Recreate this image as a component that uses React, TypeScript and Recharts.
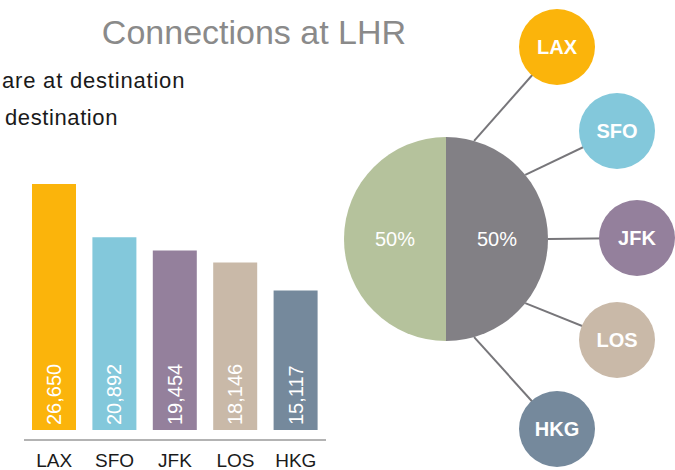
import { Bar, BarChart, Cell, LabelList, Pie, PieChart, Scatter, ScatterChart, XAxis, YAxis } from "recharts";

const FONT = "'Liberation Sans', Arial, Helvetica, sans-serif";

// bar chart
const destinations = ["LAX", "SFO", "JFK", "LOS", "HKG"];
const connections = [26650, 20892, 19454, 18146, 15117];
const destColors = ["#FBB40B", "#83C8DB", "#94809C", "#C9B9A8", "#75899C"];

// hub pie
const shareNames = ["Not at destination", "At destination"];
const shareValues = [50, 50];
const shareColors = ["#828085", "#B5C29C"];

// hub-and-spoke layout (px units relative to hub centre)
const bubbleX = [111, 171, 191, 171, 111];
const bubbleY = [192, 108, 1, -101, -190];
const spokeAngles = [74, 39, 0, -39, -74];

const HUB_R = 102;
const BUBBLE_R = 38;
const RAD = Math.PI / 180;

const barData = destinations.map((name, i) => ({ name, value: connections[i] }));
const pieData = shareNames.map((name, i) => ({ name, value: shareValues[i] }));
const bubbleData = destinations.map((name, i) => ({ name, x: bubbleX[i], y: bubbleY[i], color: destColors[i] }));
const spokes = destinations.map((name, i) => [
  { x: HUB_R * Math.cos(spokeAngles[i] * RAD), y: HUB_R * Math.sin(spokeAngles[i] * RAD) },
  { x: bubbleX[i], y: bubbleY[i] },
]);

const BarValue = (props: any) => {
  const { x, y, width, height, value } = props;
  const cx = x + width / 2;
  const by = y + height - 5;
  return (
    <text
      x={cx}
      y={by}
      transform={`rotate(-90, ${cx}, ${by})`}
      textAnchor="start"
      dominantBaseline="central"
      fill="#FFFFFF"
      fontSize={20}
      fontFamily={FONT}
    >
      {Number(value).toLocaleString("en-US")}
    </text>
  );
};

const CategoryTick = (props: any) => (
  <text x={props.x} y={props.y + 25} textAnchor="middle" fill="#1A1A1A" fontSize={19} fontFamily={FONT}>
    {props.payload.value}
  </text>
);

const Bubble = (props: any) => {
  const { cx, cy, payload } = props;
  return (
    <g>
      <circle cx={cx} cy={cy} r={BUBBLE_R} fill={payload.color} />
      <text
        x={cx}
        y={cy}
        textAnchor="middle"
        dominantBaseline="central"
        fill="#FFFFFF"
        fontSize={20}
        fontWeight="bold"
        fontFamily={FONT}
      >
        {payload.name}
      </text>
    </g>
  );
};

const PieValue = (props: any) => {
  const { cx, cy, midAngle, outerRadius, percent } = props;
  const r = outerRadius * 0.5;
  const x = cx + r * Math.cos(-midAngle * RAD);
  const y = cy + r * Math.sin(-midAngle * RAD);
  return (
    <text x={x} y={y} textAnchor="middle" dominantBaseline="central" fill="#FFFFFF" fontSize={20} fontFamily={FONT}>
      {`${Math.round(percent * 100)}%`}
    </text>
  );
};

export default function App() {
  return (
    <div style={{ position: "absolute", left: 0, top: 0, width: 675, height: 470, overflow: "hidden", background: "#FFFFFF" }}>
      <div style={{ position: "absolute", left: 0, top: 0 }}>
        <BarChart width={340} height={470} data={barData} margin={{ top: 160, right: 14, bottom: 0, left: 24 }}>
          <XAxis
            dataKey="name"
            height={30}
            tickLine={false}
            tickSize={0}
            tick={<CategoryTick />}
            axisLine={{ stroke: "#B3B3B3", strokeWidth: 2 }}
          />
          <YAxis hide domain={[-1083, 29250]} allowDataOverflow />
          <Bar dataKey="value" barSize={44} isAnimationActive={false}>
            {barData.map((d, i) => (
              <Cell key={d.name} fill={destColors[i]} />
            ))}
            <LabelList dataKey="value" content={<BarValue />} />
          </Bar>
        </BarChart>
      </div>

      <div style={{ position: "absolute", left: 330, top: 0 }}>
        <ScatterChart width={345} height={470} margin={{ top: 0, right: 0, bottom: 0, left: 0 }}>
          <XAxis type="number" dataKey="x" domain={[-116, 229]} hide allowDataOverflow />
          <YAxis type="number" dataKey="y" domain={[-231, 239]} hide allowDataOverflow />
          {spokes.map((s, i) => (
            <Scatter
              key={destinations[i]}
              data={s}
              line={{ stroke: "#77767A", strokeWidth: 2 }}
              shape={() => <g />}
              isAnimationActive={false}
            />
          ))}
          <Scatter data={bubbleData} shape={<Bubble />} isAnimationActive={false} />
        </ScatterChart>
      </div>

      <div style={{ position: "absolute", left: 330, top: 0 }}>
        <PieChart width={345} height={470} margin={{ top: 0, right: 0, bottom: 0, left: 0 }}>
          <Pie
            data={pieData}
            dataKey="value"
            cx={116}
            cy={239}
            outerRadius={HUB_R}
            startAngle={90}
            endAngle={-270}
            stroke="none"
            label={<PieValue />}
            labelLine={false}
            isAnimationActive={false}
          >
            {pieData.map((d, i) => (
              <Cell key={d.name} fill={shareColors[i]} />
            ))}
          </Pie>
        </PieChart>
      </div>

      <svg width={675} height={470} style={{ position: "absolute", left: 0, top: 0, pointerEvents: "none" }}>
        <text x={254} y={44} textAnchor="middle" fill="#8A8A8A" fontSize={34} fontFamily={FONT}>
          Connections at LHR
        </text>
        <text x={2} y={88} fill="#1A1A1A" fontSize={22} letterSpacing={0.8} fontFamily={FONT}>
          are at destination
        </text>
        <text x={5} y={125} fill="#1A1A1A" fontSize={22} letterSpacing={0.6} fontFamily={FONT}>
          destination
        </text>
      </svg>
    </div>
  );
}
